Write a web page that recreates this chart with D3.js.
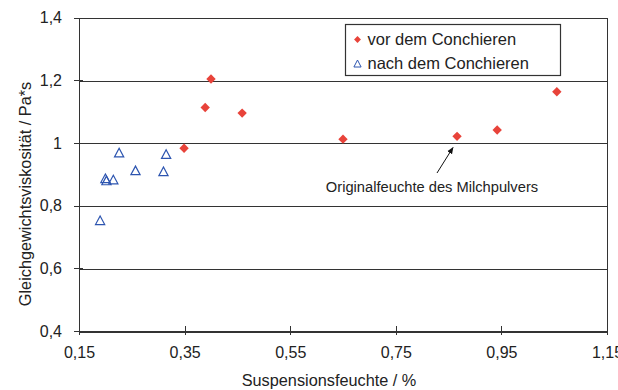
<!DOCTYPE html>
<html>
<head>
<meta charset="utf-8">
<title>Gleichgewichtsviskositaet</title>
<script src="https://cdn.jsdelivr.net/npm/d3@7"></script>
<style>
  html, body { margin: 0; padding: 0; background: #fff; }
  svg { display: block; font-family: "Liberation Sans", Arial, sans-serif; }
  .grid line { stroke: #333; stroke-width: 1; shape-rendering: crispEdges; }
  .axis path, .axis line { stroke: #333; shape-rendering: crispEdges; }
  .axis text { fill: #222; font-size: 16px; }
</style>
</head>
<body>
<svg width="618" height="390"></svg>
<script>
// data
var vorX = [0.349, 0.389, 0.400, 0.459, 0.650, 0.866, 0.942, 1.055];
var vorY = [0.983, 1.113, 1.204, 1.095, 1.012, 1.021, 1.041, 1.163];
var nachX = [0.190, 0.200, 0.202, 0.215, 0.226, 0.257, 0.310, 0.315];
var nachY = [0.751, 0.885, 0.878, 0.881, 0.967, 0.910, 0.907, 0.962];
var xTicks = [0.15, 0.35, 0.55, 0.75, 0.95, 1.15];
var yTicks = [0.4, 0.6, 0.8, 1.0, 1.2, 1.4];
var seriesNames = ["vor dem Conchieren", "nach dem Conchieren"];

var svg = d3.select("svg"),
    margin = {top: 17.5, right: 11, bottom: 59, left: 79},
    width = +svg.attr("width") - margin.left - margin.right,
    height = +svg.attr("height") - margin.top - margin.bottom;

var x = d3.scaleLinear().domain([0.15, 1.15]).range([0, width]),
    y = d3.scaleLinear().domain([0.4, 1.4]).range([height, 0]);

var fmt = function(d) {
  var s = d3.format(".2~f")(d);
  return s.replace(".", ",");
};

var g = svg.append("g")
    .attr("transform", "translate(" + margin.left + "," + margin.top + ")");

// gridlines + frame
g.append("g").attr("class", "grid")
  .selectAll("line")
  .data(yTicks)
  .enter().append("line")
    .attr("x1", 0).attr("x2", width)
    .attr("y1", function(d) { return Math.round(y(d)) + 0.5; })
    .attr("y2", function(d) { return Math.round(y(d)) + 0.5; });

g.append("line")
  .attr("x1", width + 0.5).attr("x2", width + 0.5)
  .attr("y1", 0).attr("y2", height)
  .attr("stroke", "#333").attr("shape-rendering", "crispEdges");

g.append("g")
    .attr("class", "axis")
    .attr("transform", "translate(0," + height + ")")
    .call(d3.axisBottom(x).tickValues(xTicks).tickFormat(fmt).tickSize(-5).tickSizeOuter(0).tickPadding(16))
    .call(function(a) { a.selectAll(".tick line").attr("y2", -5).attr("y1", 4); });

g.append("g")
    .attr("class", "axis")
    .call(d3.axisLeft(y).tickValues(yTicks).tickFormat(fmt).tickSize(5).tickSizeOuter(0).tickPadding(12))
    .call(function(a) { a.selectAll(".tick line").attr("x2", -5).attr("x1", 4); });

// axis titles
svg.append("text")
    .attr("x", 329)
    .attr("y", 386)
    .attr("text-anchor", "middle")
    .attr("font-size", 16.3)
    .attr("fill", "#222")
    .text("Suspensionsfeuchte / %");

svg.append("text")
    .attr("transform", "translate(31,194) rotate(-90)")
    .attr("text-anchor", "middle")
    .attr("font-size", 16.3)
    .attr("fill", "#222")
    .text("Gleichgewichtsviskosität / Pa*s");

var red = "#e8433a", blue = "#2d55b0";
var diamond = d3.symbol().type(d3.symbolDiamond2).size(56);
var tri = "M0,-5L4.6,3.6L-4.6,3.6Z";

g.selectAll(".vor")
  .data(vorX)
  .enter().append("path")
    .attr("class", "vor")
    .attr("d", diamond)
    .attr("fill", red)
    .attr("transform", function(d, i) { return "translate(" + x(d) + "," + y(vorY[i]) + ")"; });

g.selectAll(".nach")
  .data(nachX)
  .enter().append("path")
    .attr("class", "nach")
    .attr("d", tri)
    .attr("fill", "none")
    .attr("stroke", blue)
    .attr("stroke-width", 1.2)
    .attr("transform", function(d, i) { return "translate(" + x(d) + "," + y(nachY[i]) + ")"; });

// legend
var lg = svg.append("g").attr("transform", "translate(345.5,24.5)");
lg.append("rect").attr("width", 215).attr("height", 51)
  .attr("fill", "#fff").attr("stroke", "#333").attr("stroke-width", 1.2);
lg.append("path").attr("d", d3.symbol().type(d3.symbolDiamond2).size(30))
  .attr("fill", red).attr("transform", "translate(12,15)");
lg.append("path").attr("d", "M0,-4L3.6,3L-3.6,3Z")
  .attr("fill", "none").attr("stroke", blue).attr("stroke-width", 1)
  .attr("transform", "translate(12,39.5)");
lg.selectAll("text.lt")
  .data(seriesNames)
  .enter().append("text")
    .attr("class", "lt")
    .attr("x", 22)
    .attr("y", function(d, i) { return 20.5 + i * 24; })
    .attr("font-size", 16.5)
    .attr("fill", "#222")
    .text(function(d) { return d; });

// annotation
svg.append("defs").append("marker")
    .attr("id", "ah").attr("viewBox", "0 0 10 10")
    .attr("refX", 9).attr("refY", 5)
    .attr("markerWidth", 7).attr("markerHeight", 7)
    .attr("orient", "auto")
  .append("path").attr("d", "M0,1L10,5L0,9Z").attr("fill", "#111");

svg.append("line")
    .attr("x1", 437).attr("y1", 173)
    .attr("x2", 453).attr("y2", 147.5)
    .attr("stroke", "#111").attr("stroke-width", 1)
    .attr("marker-end", "url(#ah)");

svg.append("text")
    .attr("x", 432).attr("y", 192)
    .attr("text-anchor", "middle")
    .attr("font-size", 14.7)
    .attr("fill", "#222")
    .text("Originalfeuchte des Milchpulvers");
</script>
</body>
</html>
